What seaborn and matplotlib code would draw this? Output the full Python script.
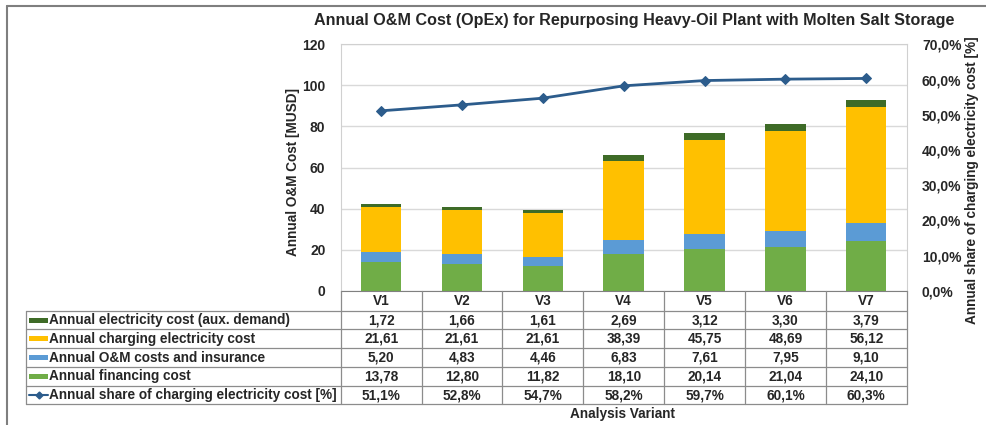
import numpy as np
import matplotlib
matplotlib.use("Agg")
import matplotlib.pyplot as plt
import matplotlib.transforms as mtransforms
from matplotlib.lines import Line2D
from matplotlib.patches import Rectangle
from matplotlib.ticker import FuncFormatter
import seaborn as sns

variants = ["V1", "V2", "V3", "V4", "V5", "V6", "V7"]
aux_cost = [1.72, 1.66, 1.61, 2.69, 3.12, 3.30, 3.79]
charging_cost = [21.61, 21.61, 21.61, 38.39, 45.75, 48.69, 56.12]
om_cost = [5.20, 4.83, 4.46, 6.83, 7.61, 7.95, 9.10]
financing_cost = [13.78, 12.80, 11.82, 18.10, 20.14, 21.04, 24.10]
charging_share = [51.1, 52.8, 54.7, 58.2, 59.7, 60.1, 60.3]

series_names = ["Annual electricity cost (aux. demand)",
                "Annual charging electricity cost",
                "Annual O&M costs and insurance",
                "Annual financing cost",
                "Annual share of charging electricity cost [%]"]
colors = ["#3E6B27", "#FFC000", "#5B9BD5", "#70AD47"]
line_color = "#2C5C8C"

sns.set_style("white")
plt.rcParams['font.family'] = ['Liberation Sans', 'DejaVu Sans']
plt.rcParams['font.weight'] = 'bold'

FS = 9.8  # table / label font size

W, H = 986, 425
fig = plt.figure(figsize=(W / 100, H / 100), dpi=100)

def fx(p):
    return p / W

def fy(p):
    return 1 - p / H

left, right, top, bottom = 340.7, 906.7, 44.3, 290.7
ax = fig.add_axes([fx(left), fy(bottom), fx(right - left), (bottom - top) / H])

# stacked bars: draw cumulative totals, tallest first
fin = np.array(financing_cost)
c1 = fin
c2 = c1 + np.array(om_cost)
c3 = c2 + np.array(charging_cost)
c4 = c3 + np.array(aux_cost)
for vals, col in zip([c4, c3, c2, c1], colors):
    sns.barplot(x=variants, y=vals, color=col, width=0.5, saturation=1,
                linewidth=0, ax=ax)

ax.set_ylim(0, 120)
ax.set_xlim(-0.5, 6.5)
ax.set_yticks(np.arange(0, 121, 20))
ax.yaxis.grid(True, color="#D9D9D9", lw=1)
ax.set_axisbelow(True)
ax.set_xticks([])
ax.set_xlabel("")
ax.tick_params(axis="y", length=0, pad=11, labelsize=10)
for s in ["left", "top", "right"]:
    ax.spines[s].set_color("#D0D0D0")
ax.spines["bottom"].set_color("#808080")
ax.set_ylabel("")
fig.text(fx(293), fy(172), "Annual O&M Cost [MUSD]", rotation=90, ha="center",
         va="center", fontsize=FS, fontweight="bold")

ax2 = ax.twinx()
sns.lineplot(x=variants, y=charging_share, color=line_color, lw=2, marker="D",
             markersize=5, markeredgecolor=line_color, ax=ax2)
ax2.set_ylim(0, 70)
ax2.set_yticks(np.arange(0, 71, 10))
ax2.yaxis.set_major_formatter(FuncFormatter(lambda v, _: f"{v:.1f}%".replace(".", ",")))
ax2.tick_params(axis="y", length=0, pad=11, labelsize=10)
ax2.set_ylabel("")
for s in ax2.spines.values():
    s.set_visible(False)
fig.text(fx(972), fy(180), "Annual share of charging electricity cost [%]",
         rotation=90, ha="center", va="center", fontsize=FS, fontweight="bold")

fig.text(fx(634), fy(20), "Annual O&M Cost (OpEx) for Repurposing Heavy-Oil Plant with Molten Salt Storage",
         ha="center", va="center", fontsize=11.6, fontweight="bold")

# data table below the plot
blend = mtransforms.blended_transform_factory(ax.transData, fig.transFigure)
grid_col = "#8C8C8C"
rows = [310.7, 329.4, 348.2, 367.0, 385.7, 404.3]
for i in range(8):
    fig.add_artist(Line2D([i - 0.5, i - 0.5], [fy(bottom), fy(rows[-1])], color=grid_col,
                          lw=0.9, transform=blend))
for r in rows:
    fig.add_artist(Line2D([fx(25.7), fx(right)], [fy(r), fy(r)], color=grid_col,
                          lw=0.9, transform=fig.transFigure))
fig.add_artist(Line2D([fx(25.7), fx(25.7)], [fy(rows[0]), fy(rows[-1])], color=grid_col,
                      lw=0.9, transform=fig.transFigure))

for i, v in enumerate(variants):
    fig.text(i, fy((bottom + rows[0]) / 2), v, transform=blend, ha="center", va="center",
             fontsize=FS, fontweight="bold")

table_vals = [aux_cost, charging_cost, om_cost, financing_cost]
for r, vals in enumerate(table_vals):
    yc = fy((rows[r] + rows[r + 1]) / 2)
    for i, v in enumerate(vals):
        fig.text(i, yc, f"{v:.2f}".replace(".", ","), transform=blend, ha="center",
                 va="center", fontsize=FS, fontweight="bold")
yc = fy((rows[4] + rows[5]) / 2)
for i, v in enumerate(charging_share):
    fig.text(i, yc, f"{v:.1f}%".replace(".", ","), transform=blend, ha="center",
             va="center", fontsize=FS, fontweight="bold")

for r, name in enumerate(series_names):
    yc = (rows[r] + rows[r + 1]) / 2
    if r < 4:
        fig.add_artist(Rectangle((fx(29), fy(yc + 2.5)), fx(19), 5 / H, color=colors[r],
                                 transform=fig.transFigure, lw=0))
    else:
        fig.add_artist(Line2D([fx(29), fx(48)], [fy(yc), fy(yc)], color=line_color, lw=1.5,
                              transform=fig.transFigure))
        fig.add_artist(Line2D([fx(38.5)], [fy(yc)], color=line_color, marker="D",
                              markersize=3.5, transform=fig.transFigure))
    fig.text(fx(49), fy(yc), name, ha="left", va="center", fontsize=FS, fontweight="bold")

fig.text(fx(623), fy(414), "Analysis Variant", ha="center", va="center",
         fontsize=FS, fontweight="bold")

# outer chart frame (left and top edges visible)
fig.add_artist(Line2D([fx(7), fx(7)], [fy(6), 0], color="#7F7F7F", lw=1.5,
                      transform=fig.transFigure))
fig.add_artist(Line2D([fx(7), 1], [fy(6), fy(6)], color="#7F7F7F", lw=1.5,
                      transform=fig.transFigure))

fig.savefig("out.png", dpi=100)
